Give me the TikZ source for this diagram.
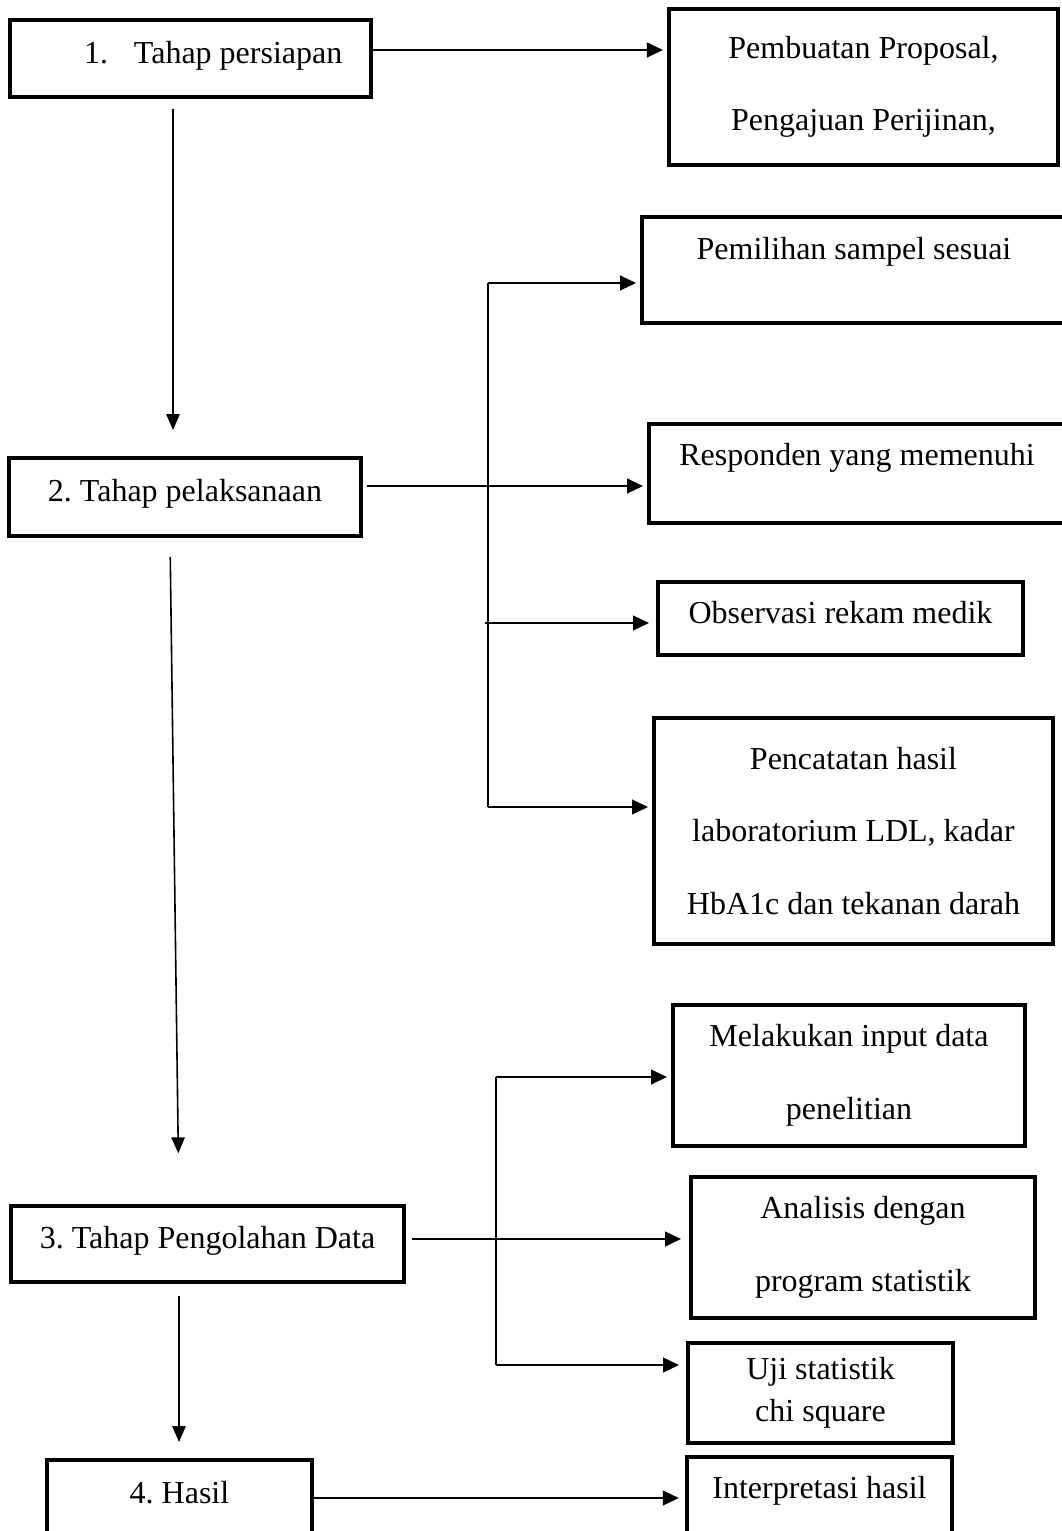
\documentclass[tikz,border=0pt]{standalone}
\usepackage{fontspec}
\setmainfont{Liberation Serif}
\usetikzlibrary{arrows.meta}
\frenchspacing

\begin{document}
\begin{tikzpicture}[x=0.375pt, y=-0.375pt,
	 stagebox/.style={draw, line width=1.5pt, inner sep=0pt, align=center, font=\fontsize{12pt}{14pt}\selectfont},
	 widebox/.style={stagebox, font=\fontsize{12pt}{27.2pt}\selectfont},
	 arr/.style={-{Triangle[length=6pt, width=5.5pt]}, line width=0.8pt, shorten >=1.5pt},
	 down/.style={-{Triangle[length=6pt, width=5pt]}, line width=0.6pt},
	 bus/.style={line width=0.8pt}]
	    \useasboundingbox (0,0) rectangle (1062,1531);
	    % left column
	    \node (b1) at (190.5,63) [stagebox, anchor=base, minimum width=135.4pt, text height=16.1pt, text depth=12.75pt] {\hspace{17pt}1.\hspace{9.75pt}Tahap persiapan};
	    \node (b2) at (185,501) [stagebox, anchor=base, minimum width=132pt, text height=16.1pt, text depth=13.1pt] {2. Tahap pelaksanaan};
	    \node (b3) at (207.5,1248) [stagebox, anchor=base, minimum width=147.4pt, text height=15.75pt, text depth=12.75pt] {3. Tahap Pengolahan Data};
	    \node (b4) at (179.5,1503) [stagebox, anchor=base, minimum width=99.4pt, text height=16.1pt, text depth=11.6pt] {4. Hasil};
	    % right column
	    \node (pers) at (863.5,87) [widebox, minimum width=145.9pt, minimum height=58.5pt] {Pembuatan Proposal,\\Pengajuan Perijinan,};
	    \node (pilih) at (854,259) [stagebox, anchor=base, minimum width=159pt, text height=15.75pt, text depth=24pt] {Pemilihan sampel sesuai};
	    \node (resp) at (857,465) [stagebox, anchor=base, minimum width=156pt, text height=15.4pt, text depth=21.75pt] {Responden yang memenuhi};
	    \node (obs) at (840.5,623) [stagebox, anchor=base, minimum width=136.9pt, text height=15.4pt, text depth=12pt] {Observasi rekam medik};
	    \node (catat) at (853.5,831) [widebox, minimum width=149.6pt, minimum height=85.1pt] {Pencatatan hasil\\laboratorium LDL, kadar\\HbA1c dan tekanan darah};
	    \node (input) at (849,1075.5) [widebox, minimum width=132pt, minimum height=52.9pt] {Melakukan input data\\penelitian};
	    \node (anal) at (863,1247.5) [widebox, minimum width=129pt, minimum height=52.9pt] {Analisis dengan\\program statistik};
	    \node (uji) at (820.5,1393) [stagebox, font=\fontsize{12pt}{15.75pt}\selectfont, minimum width=99.4pt, minimum height=37.5pt] {Uji statistik\\chi square};
	    \node (interp) at (819.5,1498) [stagebox, anchor=base, minimum width=99.4pt, text height=15.4pt, text depth=23pt] {Interpretasi hasil};
	    % branch points
	    \coordinate (bus1a) at (488,283);
	    \coordinate (bus1b) at (488,807);
	    \coordinate (obsin) at (485,623);
	    \coordinate (bus2a) at (496,1077);
	    \coordinate (bus2b) at (496,1365);
	    % connectors
	    \draw[arr] (b1.east |- 0,50) -- (pers.west |- 0,50);
	    \draw[down, shorten <=3.75pt, shorten >=9.75pt] (b1.south -| 173,0) -- (b2.north -| 173,0);
	    \draw[bus] (bus1a) -- (bus1b);
	    \draw[arr] (bus1a) -- (pilih.west |- bus1a);
	    \draw[arr, shorten <=1.5pt] (b2.east |- 0,486) -- (resp.west |- 0,486);
	    \draw[arr, shorten >=2.6pt] (obsin) -- (obs.west |- obsin);
	    \draw[arr] (bus1b) -- (catat.west |- bus1b);
	    \draw[down, shorten <=7.1pt, shorten >=19pt] (b2.south -| 170,0) -- (b3.north -| 179,0);
	    \draw[bus] (bus2a) -- (bus2b);
	    \draw[arr] (bus2a) -- (input.west |- bus2a);
	    \draw[arr, line width=1pt, shorten <=2.25pt, shorten >=3pt] (b3.east |- 0,1239) -- (anal.west |- 0,1239);
	    \draw[arr, shorten >=2.6pt] (bus2b) -- (uji.west |- bus2b);
	    \draw[down, shorten <=4.5pt, shorten >=6pt] (b3.south -| 179,0) -- (b4.north -| 179,0);
	    \draw[arr, shorten >=2.3pt] (b4.east |- 0,1498) -- (interp.west |- 0,1498);
	 \end{tikzpicture}
\end{document}
